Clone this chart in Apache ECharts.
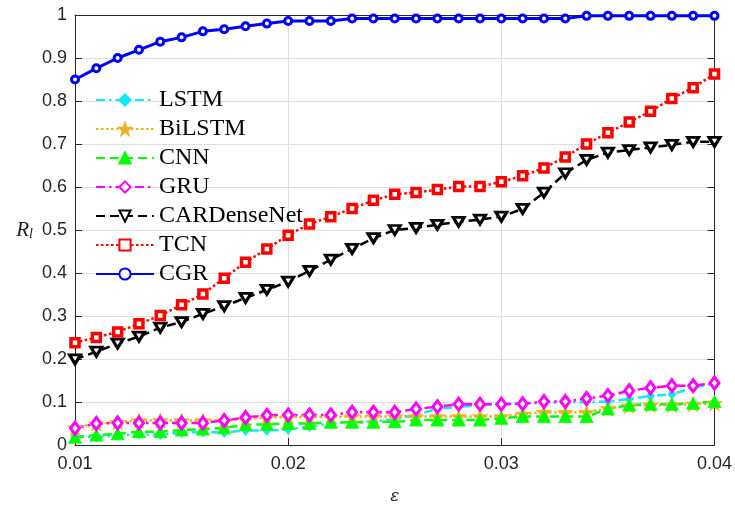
<!DOCTYPE html>
<html>
<head>
<meta charset="utf-8">
<script src="https://cdn.jsdelivr.net/npm/echarts@6/dist/echarts.min.js"></script>
<style>
  html, body { margin: 0; padding: 0; background: #fff; }
  #chart { width: 735px; height: 510px; }
</style>
</head>
<body>
<div id="chart"></div>
<script>
// Perturbation level (x axis)
const epsilon = [0.010, 0.011, 0.012, 0.013, 0.014, 0.015, 0.016, 0.017, 0.018, 0.019,
                 0.020, 0.021, 0.022, 0.023, 0.024, 0.025, 0.026, 0.027, 0.028, 0.029,
                 0.030, 0.031, 0.032, 0.033, 0.034, 0.035, 0.036, 0.037, 0.038, 0.039, 0.040];

const lstm = [0.020, 0.018, 0.022, 0.025, 0.024, 0.029, 0.030, 0.029, 0.034, 0.034,
              0.036, 0.043, 0.050, 0.053, 0.055, 0.060, 0.070, 0.084, 0.089, 0.093,
              0.096, 0.096, 0.099, 0.099, 0.100, 0.101, 0.107, 0.114, 0.118, 0.133, 0.143];
const bilstm = [0.040, 0.050, 0.053, 0.057, 0.057, 0.057, 0.057, 0.057, 0.060, 0.064,
                0.065, 0.065, 0.065, 0.066, 0.066, 0.066, 0.066, 0.066, 0.066, 0.066,
                0.066, 0.072, 0.076, 0.076, 0.076, 0.085, 0.091, 0.093, 0.093, 0.095, 0.097];
const cnn = [0.018, 0.023, 0.026, 0.031, 0.031, 0.035, 0.037, 0.040, 0.047, 0.048,
             0.050, 0.050, 0.053, 0.053, 0.053, 0.054, 0.058, 0.058, 0.058, 0.058,
             0.062, 0.066, 0.066, 0.066, 0.066, 0.084, 0.093, 0.095, 0.095, 0.097, 0.101];
const gru = [0.039, 0.050, 0.051, 0.051, 0.051, 0.051, 0.051, 0.057, 0.064, 0.069,
             0.070, 0.070, 0.070, 0.076, 0.076, 0.076, 0.084, 0.089, 0.095, 0.095,
             0.095, 0.096, 0.101, 0.101, 0.108, 0.115, 0.126, 0.133, 0.138, 0.138, 0.144];
const cardensenet = [0.199, 0.217, 0.236, 0.252, 0.273, 0.286, 0.305, 0.323, 0.342, 0.361,
                     0.380, 0.405, 0.431, 0.456, 0.481, 0.500, 0.505, 0.512, 0.519, 0.524,
                     0.531, 0.549, 0.587, 0.632, 0.663, 0.680, 0.686, 0.692, 0.698, 0.705, 0.705];
const tcn = [0.238, 0.250, 0.263, 0.282, 0.301, 0.326, 0.351, 0.388, 0.425, 0.456,
             0.488, 0.514, 0.531, 0.550, 0.569, 0.583, 0.587, 0.594, 0.601, 0.601,
             0.612, 0.626, 0.644, 0.670, 0.700, 0.726, 0.751, 0.776, 0.806, 0.831, 0.863];
const cgr = [0.850, 0.876, 0.900, 0.919, 0.938, 0.948, 0.962, 0.967, 0.974, 0.980,
             0.986, 0.986, 0.986, 0.992, 0.992, 0.992, 0.992, 0.992, 0.992, 0.992,
             0.992, 0.992, 0.992, 0.992, 0.998, 0.998, 0.998, 0.998, 0.998, 0.998, 0.998];

const seriesNames = ['LSTM', 'BiLSTM', 'CNN', 'GRU', 'CARDenseNet', 'TCN', 'CGR'];
const xTicks = [0.01, 0.02, 0.03, 0.04];

const STAR = 'path://M0,-10 L2.35,-3.24 L9.51,-3.09 L3.8,1.24 L5.88,8.09 L0,4 L-5.88,8.09 L-3.8,1.24 L-9.51,-3.09 L-2.35,-3.24 Z';
const DASHDOT = [9, 4, 2.5, 4];
const DASHED = [9, 5];
const DOTTED = [2.5, 2.5];

function pairs(ys) {
  return ys.map((v, i) => [epsilon[i], v]);
}

function lineSeries(name, ys, color, type, symbol, size, hollow, extra) {
  return Object.assign({
    name: name,
    type: 'line',
    data: pairs(ys),
    symbol: symbol,
    symbolSize: size,
    showAllSymbol: true,
    lineStyle: { color: color, width: 2.5, type: type },
    itemStyle: hollow
      ? { color: '#ffffff', borderColor: color, borderWidth: 3 }
      : { color: color, borderColor: color, borderWidth: 0.8 },
    emphasis: { disabled: true }
  }, extra || {});
}

const chart = echarts.init(document.getElementById('chart'), null, { renderer: 'canvas' });

const axisText = { color: '#262626', fontFamily: 'Liberation Sans, Arial, sans-serif', fontSize: 18 };

chart.setOption({
  animation: false,
  backgroundColor: '#ffffff',
  grid: { left: 75, right: 13, top: 15, bottom: 56, containLabel: false },
  legend: {
    orient: 'vertical',
    left: 90,
    top: 83,
    itemWidth: 58,
    itemHeight: 14,
    itemGap: 5,
    data: seriesNames,
    textStyle: { fontFamily: 'Liberation Serif, Times New Roman, serif', fontSize: 24, color: '#000', lineHeight: 24 }
  },
  xAxis: [{
    type: 'value',
    min: 0.01, max: 0.04, interval: 0.01,
    name: 'ε',
    nameLocation: 'middle',
    nameGap: 43,
    nameTextStyle: { fontFamily: 'DejaVu Serif, serif', fontStyle: 'italic', fontSize: 17, color: '#262626' },
    axisLine: { show: true, onZero: false, lineStyle: { color: '#262626', width: 1 } },
    axisTick: { show: true, inside: true, length: 7, lineStyle: { color: '#262626' } },
    axisLabel: Object.assign({ margin: 10, formatter: v => xTicks.includes(+v.toFixed(3)) ? v.toFixed(2) : '' }, axisText),
    splitLine: { show: true, lineStyle: { color: '#dedede', width: 1 } }
  }, {
    type: 'value', position: 'top',
    min: 0.01, max: 0.04, interval: 0.01,
    axisLine: { show: true, onZero: false, lineStyle: { color: '#262626', width: 1 } },
    axisTick: { show: true, inside: true, length: 7, lineStyle: { color: '#262626' } },
    axisLabel: { show: false },
    splitLine: { show: false }
  }],
  yAxis: [{
    type: 'value',
    min: 0, max: 1, interval: 0.1,
    name: '{r|R}{s|l}',
    nameLocation: 'middle',
    nameRotate: 0,
    nameGap: 42,
    nameTextStyle: {
      rich: {
        r: { fontFamily: 'Liberation Serif, serif', fontStyle: 'italic', fontSize: 21, color: '#262626' },
        s: { fontFamily: 'Liberation Serif, serif', fontStyle: 'italic', fontSize: 14, color: '#262626', verticalAlign: 'bottom', padding: [8, 0, 0, 0] }
      }
    },
    axisLine: { show: true, onZero: false, lineStyle: { color: '#262626', width: 1 } },
    axisTick: { show: true, inside: true, length: 7, lineStyle: { color: '#262626' } },
    axisLabel: Object.assign({ margin: 8, formatter: v => +v.toFixed(1) + '' }, axisText),
    splitLine: { show: true, lineStyle: { color: '#dedede', width: 1 } }
  }, {
    type: 'value', position: 'right',
    min: 0, max: 1, interval: 0.1,
    axisLine: { show: true, onZero: false, lineStyle: { color: '#262626', width: 1 } },
    axisTick: { show: true, inside: true, length: 7, lineStyle: { color: '#262626' } },
    axisLabel: { show: false },
    splitLine: { show: false }
  }],
  series: [
    lineSeries('LSTM', lstm, '#14e6f2', DASHDOT, 'diamond', [8, 10], false),
    lineSeries('BiLSTM', bilstm, '#EDB120', DOTTED, STAR, 15, false),
    lineSeries('CNN', cnn, '#00ff00', DASHED, 'triangle', [13, 12], false),
    lineSeries('GRU', gru, '#ff00ff', DASHDOT, 'diamond', [9, 12], true),
    lineSeries('CARDenseNet', cardensenet, '#000000', DASHED, 'triangle', [11, 9], true, { symbolRotate: 180 }),
    lineSeries('TCN', tcn, '#ff0000', DOTTED, 'rect', [8, 8], true, { itemStyle: { color: '#ffffff', borderColor: '#ff0000', borderWidth: 3.5 } }),
    lineSeries('CGR', cgr, '#0000ff', 'solid', 'circle', [7, 7], true, { lineStyle: { color: '#0000ff', width: 3, type: 'solid' } })
  ]
});
</script>
</body>
</html>
